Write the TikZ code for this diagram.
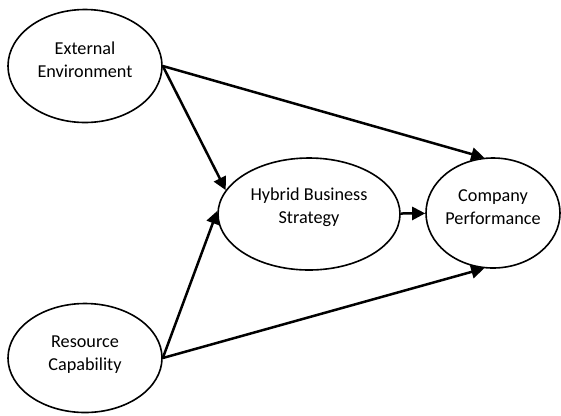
\documentclass[tikz,border=0pt]{standalone}
\usepackage{fontspec}
\setmainfont{Carlito}
\usetikzlibrary{shapes.geometric,arrows.meta}
\begin{document}
\begin{tikzpicture}[x=1bp,y=-1bp,
    construct/.style={draw,ellipse,line width=1.6bp,inner sep=0pt},
    every label/.style={align=center,font=\fontsize{18.2bp}{23bp}\selectfont},
    link/.style={line width=2.5bp,-{Triangle[length=13bp,width=13bp]}}]
    \useasboundingbox (0,0) rectangle (561,415);
    \node[construct,minimum width=154bp,minimum height=113bp,
        label={[yshift=6bp]center:External\\Environment}] (ext) at (85,66) {};
    \node[construct,minimum width=154bp,minimum height=109bp,
        label={[yshift=3bp]center:Resource\\Capability}] (res) at (85,358) {};
    \node[construct,minimum width=182bp,minimum height=112bp,
        label={[yshift=7bp]center:Hybrid Business\\Strategy}] (hyb) at (309,214) {};
    \node[construct,minimum width=134bp,minimum height=110bp,
        label={[yshift=6bp]center:Company\\Performance}] (comp) at (493,213) {};
    \draw[link] (ext.east) -- (hyb.164);
    \draw[link] (ext.east) -- (comp.99);
    \draw[link] (res.east) -- (hyb.178);
    \draw[link] (res.east) -- (comp.-99);
    \draw[link] (hyb) -- (comp);
\end{tikzpicture}
\end{document}
